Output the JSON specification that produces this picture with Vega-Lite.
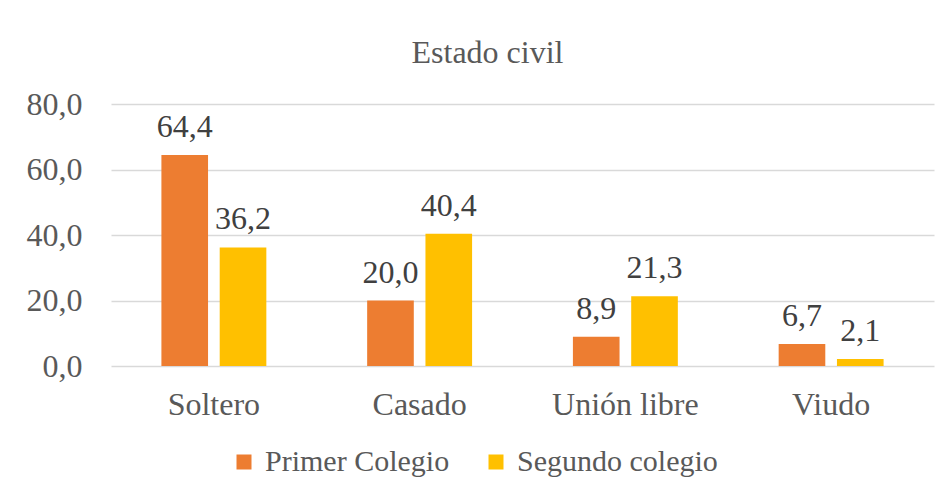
{
  "$schema": "https://vega.github.io/schema/vega-lite/v6.json",
  "autosize": {"type": "none"},
  "width": 823,
  "height": 262,
  "padding": {"left": 111, "top": 104, "right": 17, "bottom": 132},
  "background": "white",
  "config": {
    "view": {"stroke": null},
    "font": "Liberation Serif",
    "locale": {"number": {"decimal": ",", "thousands": ".", "grouping": [3], "currency": ["", " €"]}}
  },
  "title": {
    "text": "Estado civil",
    "font": "Liberation Serif",
    "fontSize": 32,
    "fontWeight": "normal",
    "color": "#595959",
    "anchor": "middle",
    "baseline": "alphabetic",
    "offset": -7,
    "dx": -35
  },
  "data": {
    "values": [
      {"estado": "Soltero", "grupo": "Primer Colegio", "valor": 64.4},
      {"estado": "Soltero", "grupo": "Segundo colegio", "valor": 36.2},
      {"estado": "Casado", "grupo": "Primer Colegio", "valor": 20.0},
      {"estado": "Casado", "grupo": "Segundo colegio", "valor": 40.4},
      {"estado": "Unión libre", "grupo": "Primer Colegio", "valor": 8.9},
      {"estado": "Unión libre", "grupo": "Segundo colegio", "valor": 21.3},
      {"estado": "Viudo", "grupo": "Primer Colegio", "valor": 6.7},
      {"estado": "Viudo", "grupo": "Segundo colegio", "valor": 2.1}
    ]
  },
  "encoding": {
    "x": {
      "field": "estado",
      "type": "nominal",
      "sort": ["Soltero", "Casado", "Unión libre", "Viudo"],
      "scale": {"paddingInner": 0.49, "paddingOuter": 0.245},
      "axis": {
        "title": null,
        "labelAngle": 0,
        "ticks": false,
        "domain": false,
        "labelFont": "Liberation Serif",
        "labelFontSize": 32,
        "labelColor": "#595959",
        "labelPadding": 48,
        "labelBaseline": "alphabetic"
      }
    },
    "xOffset": {
      "field": "grupo",
      "type": "nominal",
      "sort": ["Primer Colegio", "Segundo colegio"],
      "scale": {"paddingInner": 0.2, "paddingOuter": 0}
    },
    "y": {
      "field": "valor",
      "type": "quantitative",
      "scale": {"domain": [0, 80]},
      "axis": {
        "title": null,
        "values": [0, 20, 40, 60, 80],
        "format": ".1f",
        "ticks": false,
        "domain": false,
        "grid": true,
        "gridColor": "#D9D9D9",
        "gridWidth": 1.5,
        "labelFont": "Liberation Serif",
        "labelFontSize": 32,
        "labelColor": "#595959",
        "labelPadding": 29
      }
    }
  },
  "layer": [
    {
      "mark": {"type": "bar"},
      "encoding": {
        "color": {
          "field": "grupo",
          "type": "nominal",
          "sort": ["Primer Colegio", "Segundo colegio"],
          "scale": {"domain": ["Primer Colegio", "Segundo colegio"], "range": ["#ED7D31", "#FFC000"]},
          "legend": {
            "title": null,
            "orient": "none",
            "direction": "horizontal",
            "legendX": 118,
            "legendY": 343,
            "symbolType": "square",
            "symbolSize": 225,
            "symbolStrokeWidth": 0,
            "labelFont": "Liberation Serif",
            "labelFontSize": 30,
            "labelColor": "#595959",
            "labelOffset": 6,
            "labelLimit": 400,
            "columnPadding": 31
          }
        }
      }
    },
    {
      "mark": {"type": "text", "baseline": "alphabetic", "dy": -18, "font": "Liberation Serif", "fontSize": 32, "color": "#404040"},
      "encoding": {
        "text": {"field": "valor", "type": "quantitative", "format": ".1f"}
      }
    }
  ]
}
